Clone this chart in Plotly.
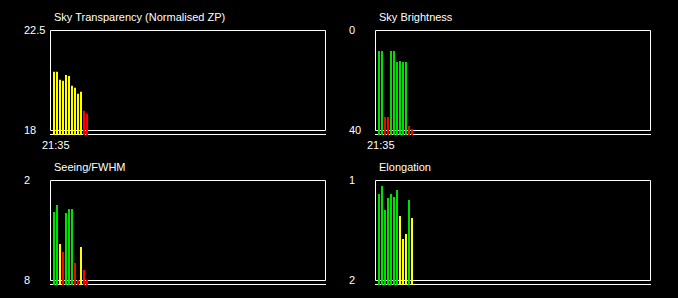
import plotly.graph_objects as go

W, H = 678, 298

# ---- data ----
bar_index = list(range(12))
time_label = "21:35"

transparency = [20.62, 20.62, 20.26, 20.22, 20.48, 20.43, 19.99, 19.90, 19.63, 19.72, 18.87, 18.73]
transparency_colors = ["y"] * 10 + ["r", "r"]

brightness = [8.4, 8.4, 34.8, 34.8, 8.4, 8.4, 12.8, 12.4, 12.8, 12.8, 38.4, 39.6]
brightness_colors = ["g", "g", "r", "r", "g", "g", "g", "g", "g", "g", "r", "r"]

seeing = [3.92, 3.50, 5.84, 6.32, 3.98, 3.74, 3.74, 6.98, 8.0, 6.02, 7.40, 8.0]
seeing_colors = ["g", "g", "y", "r", "g", "g", "g", "r", "r", "y", "r", "r"]

elongation = [1.14, 1.06, 1.30, 1.18, 1.14, 1.17, 1.10, 1.36, 1.59, 1.54, 1.20, 1.38]
elongation_colors = ["g", "g", "g", "g", "g", "g", "g", "y", "y", "y", "g", "y"]

titles = ["Sky Transparency (Normalised ZP)", "Sky Brightness", "Seeing/FWHM", "Elongation"]
top_labels = ["22.5", "0", "2", "1"]
bottom_labels = ["18", "40", "8", "2"]
axis_top = [22.5, 0, 2, 1]
axis_bottom = [18, 40, 8, 2]

COLORS = {"g": "#00e000", "y": "#ffff00", "r": "#ff0000"}
FONT = "Liberation Sans, Arial, sans-serif"

def px(x):
    return x / W

def py(y):
    return 1 - y / H

panels = [
    dict(x0=50, x1=325, y0=30, y1=130, lab_x=22, title_x=52),
    dict(x0=375, x1=650, y0=30, y1=130, lab_x=347, title_x=377),
    dict(x0=50, x1=325, y0=180, y1=280, lab_x=22, title_x=52),
    dict(x0=375, x1=650, y0=180, y1=280, lab_x=347, title_x=377),
]

series = [
    (transparency, transparency_colors),
    (brightness, brightness_colors),
    (seeing, seeing_colors),
    (elongation, elongation_colors),
]

fig = go.Figure()
layout = dict(
    width=W, height=H,
    margin=dict(l=0, r=0, t=0, b=0),
    paper_bgcolor="black", plot_bgcolor="black",
    showlegend=False, bargap=1/3,
    shapes=[], annotations=[],
)

PITCH = 3.0
FIRST_OFF = 4.0
for i, (p, (vals, cols)) in enumerate(zip(panels, series)):
    n = i + 1
    xa = "x" if n == 1 else f"x{n}"
    ya = "y" if n == 1 else f"y{n}"
    bar_base_px = p["y1"] + 5
    per_px = (axis_bottom[i] - axis_top[i]) / (p["y1"] - p["y0"])
    base_val = axis_top[i] + per_px * (bar_base_px - p["y0"])
    fig.add_trace(go.Bar(
        x=bar_index, y=[v - base_val for v in vals], base=base_val,
        marker=dict(color=[COLORS[c] for c in cols], line=dict(width=0)),
        width=2 / PITCH, xaxis=xa, yaxis=ya, hoverinfo="skip",
    ))
    width_px = p["x1"] - p["x0"]
    xr0 = -FIRST_OFF / PITCH
    layout["xaxis" if n == 1 else f"xaxis{n}"] = dict(
        domain=[px(p["x0"]), px(p["x1"])], range=[xr0, xr0 + width_px / PITCH],
        visible=False, anchor=ya,
    )
    layout["yaxis" if n == 1 else f"yaxis{n}"] = dict(
        domain=[py(bar_base_px), py(p["y0"])], range=[base_val, axis_top[i]],
        visible=False, anchor=xa,
    )
    # frame (half-pixel offsets for crisp 1px lines)
    layout["shapes"].append(dict(type="rect", xref="paper", yref="paper",
                                 x0=px(p["x0"] + 0.5), x1=px(p["x1"] + 0.5),
                                 y0=py(p["y1"] + 0.5), y1=py(p["y0"] + 0.5),
                                 line=dict(color="white", width=1), layer="below"))
    layout["shapes"].append(dict(type="line", xref="paper", yref="paper",
                                 x0=px(p["x0"]), x1=px(p["x1"] + 1),
                                 y0=py(p["y1"] + 4.5), y1=py(p["y1"] + 4.5),
                                 line=dict(color="white", width=1), layer="below"))
    layout["annotations"].append(dict(text=titles[i], xref="paper", yref="paper",
                                      x=px(p["title_x"]), y=py(p["y0"] - 13), xanchor="left", yanchor="middle",
                                      showarrow=False, font=dict(family=FONT, size=11, color="white")))
    layout["annotations"].append(dict(text=top_labels[i], xref="paper", yref="paper",
                                      x=px(p["lab_x"]), y=py(p["y0"]), xanchor="left", yanchor="middle",
                                      showarrow=False, font=dict(family=FONT, size=11, color="white")))
    layout["annotations"].append(dict(text=bottom_labels[i], xref="paper", yref="paper",
                                      x=px(p["lab_x"]), y=py(p["y1"]), xanchor="left", yanchor="middle",
                                      showarrow=False, font=dict(family=FONT, size=11, color="white")))
    if i < 2:
        layout["annotations"].append(dict(text=time_label, xref=xa, yref="paper",
                                          x=bar_index[0], y=py(p["y1"] + 15), xshift=1.5,
                                          xanchor="center", yanchor="middle",
                                          showarrow=False, font=dict(family=FONT, size=11, color="white")))

fig.update_layout(**layout)
fig.write_html("out.html")
